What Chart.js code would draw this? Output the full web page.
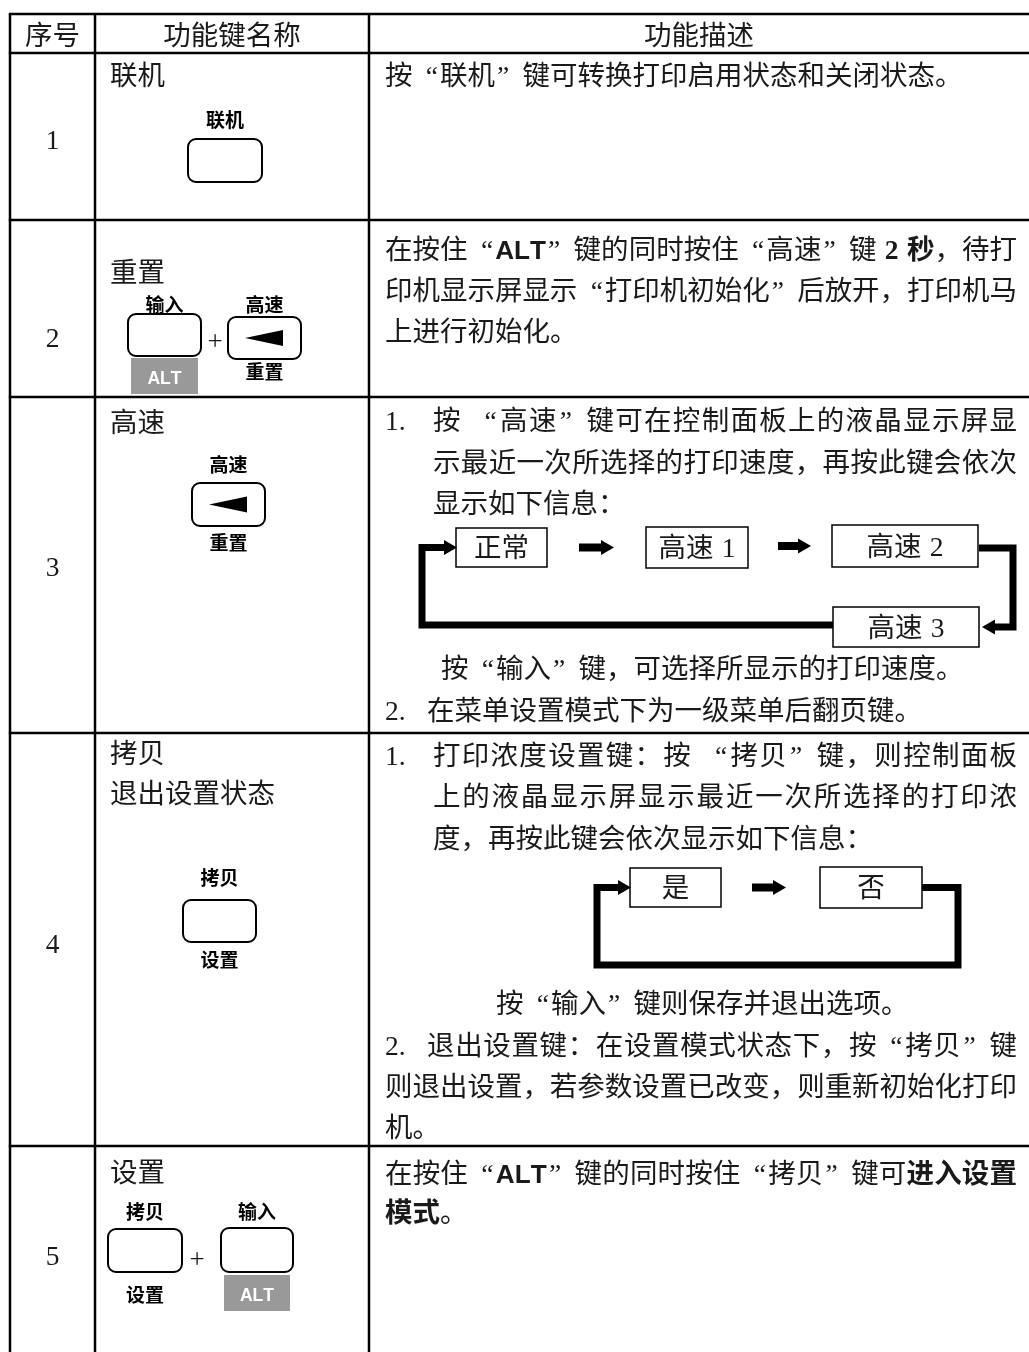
<!DOCTYPE html>
<html><head><meta charset="utf-8">
<script src="https://cdn.jsdelivr.net/npm/chart.js@4.4.1/dist/chart.umd.min.js"></script>
<style>html,body{margin:0;padding:0;background:#fff;}canvas{display:block;}</style>
</head><body>
<canvas id="c" width="1029" height="1352"></canvas>
<script>
// ---------- DATA ----------
const headers = ['序号', '功能键名称', '功能描述'];
const rowNumbers = ['1', '2', '3', '4', '5'];
const keyNames = [['联机'], ['重置'], ['高速'], ['拷贝', '退出设置状态'], ['设置']];
const keyTopLabels = [['联机'], ['输入', '高速'], ['高速'], ['拷贝'], ['拷贝', '输入']];
const keyBottomLabels = [[''], ['ALT', '重置'], ['重置'], ['设置'], ['设置', 'ALT']];
const keyArrows = [[false], [false, true], [true], [false], [false, false]];
const descriptions = [
  ['按“联机”键可转换打印启用状态和关闭状态。'],
  ['在按住“**ALT**”键的同时按住“高速”键 **2 秒**，待打', '印机显示屏显示“打印机初始化”后放开，打印机马', '上进行初始化。'],
  ['1.\t按 “高速”键可在控制面板上的液晶显示屏显', '示最近一次所选择的打印速度，再按此键会依次', '显示如下信息：', '按“输入”键，可选择所显示的打印速度。', '2.\t在菜单设置模式下为一级菜单后翻页键。'],
  ['1.\t打印浓度设置键：按 “拷贝”键，则控制面板', '上的液晶显示屏显示最近一次所选择的打印浓', '度，再按此键会依次显示如下信息：', '按“输入”键则保存并退出选项。', '2.\t退出设置键：在设置模式状态下，按“拷贝”键', '则退出设置，若参数设置已改变，则重新初始化打印', '机。'],
  ['在按住“**ALT**”键的同时按住“拷贝”键可**进入设置**', '**模式**。']
];
const speedModes = ['正常', '高速 1', '高速 2', '高速 3'];
const densityModes = ['是', '否'];

// ---------- LAYOUT (positions / styles only) ----------
const FS = 27.5;
const KFS = 19;
const colX = [10, 95, 369, 1040];
const rowY = [14, 53, 220, 397, 733, 1146, 1400];
const headerY = 35;
const numY = [139, 337, 566, 943, 1255];
const nameY = [[75], [272], [422], [753, 793], [1172]];
const nameX = 110;
const descEnd = 1017;
const descY = [[75], [249, 290, 331], [420, 462, 503, 668, 710], [755, 796, 838, 1003, 1045, 1086, 1127], [1173, 1212]];
const descStart = [[385], [385, 385, 385], [[385, 433], 433, 433, 441, [385, 427]], [[385, 433], 433, 433, 496, [385, 427], 385, 385], [385, 385]];
const descJust = [[false], [true, true, false], [true, true, false, false, false], [true, true, false, false, true, true, false], [true, false]];
const keyBoxes = [
  [[188, 139, 74, 43]],
  [[128, 314, 73, 42], [228, 317, 73, 42]],
  [[192, 483, 73, 43]],
  [[183, 900, 73, 42]],
  [[108, 1229, 74, 43], [221, 1228, 72, 44]]
];
const keyTopY = [[120], [305, 305], [465], [878], [1212, 1212]];
const keyBotY = [[0], [358, 372], [543], [960], [1295, 1275]];
const plusPos = [null, [215, 340], null, null, [197, 1258]];
const speedBoxes = [[456, 528, 91, 39], [646, 527, 102, 41], [832, 525, 146, 42], [833, 607, 146, 40]];
const densityBoxes = [[630, 868, 91, 39], [820, 867, 102, 41]];

// ---------- RENDER ----------
const isCJK = ch => ch.charCodeAt(0) >= 0x2E80;
const isQuote = ch => ch === '“' || ch === '”';

function parse(str) {
  const out = []; let bold = false;
  for (let i = 0; i < str.length; i++) {
    if (str[i] === '*' && str[i + 1] === '*') { bold = !bold; i++; continue; }
    out.push({ ch: str[i], bold });
  }
  return out;
}
function fontFor(t, s) {
  const ch = t.ch;
  if (/[A-Za-z]/.test(ch)) return (t.bold ? 'bold ' : '') + (s * 0.95) + 'px "Liberation Sans"';
  if (isQuote(ch) || /[0-9. +]/.test(ch)) return (t.bold ? 'bold ' : '') + s + 'px "Liberation Serif"';
  return (t.bold ? 'bold ' : '') + s + 'px "Noto Sans CJK SC"';
}
function adv(ctx, t, s) {
  if (t.ch === ' ') return s * 0.3;
  if (isCJK(t.ch) || isQuote(t.ch)) return s;
  ctx.font = fontFor(t, s);
  return ctx.measureText(t.ch).width;
}
function drawRun(ctx, toks, x0, xEnd, cy, s, justify) {
  let W = 0; toks.forEach(t => W += adv(ctx, t, s));
  const gap = justify && toks.length > 1 ? (xEnd - x0 - W) / (toks.length - 1) : 0;
  let x = x0; const base = cy + s * 0.36;
  toks.forEach(t => {
    const a = adv(ctx, t, s);
    if (t.ch !== ' ') {
      ctx.font = fontFor(t, s);
      let dx = 0;
      if (isQuote(t.ch)) {
        const w = ctx.measureText(t.ch).width;
        dx = t.ch === '“' ? a - w - 2 : 2;
      }
      ctx.textAlign = 'left'; ctx.textBaseline = 'alphabetic';
      ctx.fillText(t.ch, x + dx, base);
    }
    x += a + gap;
  });
}
function drawLine(ctx, str, starts, xEnd, cy, s, justify) {
  const parts = str.split('\t');
  const st = Array.isArray(starts) ? starts : [starts];
  parts.forEach((p, i) => {
    drawRun(ctx, parse(p), st[i], xEnd, cy, s, justify && i === parts.length - 1);
  });
}
function centerText(ctx, str, cx, cy, s, bold) {
  const toks = parse(str).map(t => ({ ch: t.ch, bold: t.bold || bold }));
  let W = 0; toks.forEach(t => W += adv(ctx, t, s));
  drawRun(ctx, toks, cx - W / 2, 0, cy, s, false);
}
function roundRect(ctx, x, y, w, h, r) {
  ctx.beginPath();
  ctx.moveTo(x + r, y); ctx.lineTo(x + w - r, y); ctx.arcTo(x + w, y, x + w, y + r, r);
  ctx.lineTo(x + w, y + h - r); ctx.arcTo(x + w, y + h, x + w - r, y + h, r);
  ctx.lineTo(x + r, y + h); ctx.arcTo(x, y + h, x, y + h - r, r);
  ctx.lineTo(x, y + r); ctx.arcTo(x, y, x + r, y, r); ctx.closePath();
}
function arrowHead(ctx, tipX, tipY, dir, len, half) {
  ctx.beginPath();
  ctx.moveTo(tipX, tipY);
  ctx.lineTo(tipX - dir * len, tipY - half);
  ctx.lineTo(tipX - dir * len, tipY + half);
  ctx.closePath(); ctx.fill();
}
function shortArrow(ctx, x1, x2, y) {
  ctx.fillRect(x1, y - 4, (x2 - x1) - 11, 8);
  arrowHead(ctx, x2, y, 1, 13, 7.5);
}

const tablePlugin = {
  id: 'manualTable',
  afterDraw(chart) {
    const ctx = chart.ctx;
    const sx = chart.scales.x, sy = chart.scales.y;
    const X = v => sx.getPixelForValue(v), Y = v => sy.getPixelForValue(v);
    ctx.save();
    ctx.fillStyle = '#fff'; ctx.fillRect(0, 0, chart.width, chart.height);
    // grid
    ctx.strokeStyle = '#000'; ctx.lineWidth = 2.5;
    rowY.forEach(v => { ctx.beginPath(); ctx.moveTo(X(colX[0]) - 1.2, Y(v)); ctx.lineTo(X(1029), Y(v)); ctx.stroke(); });
    colX.forEach(v => { ctx.beginPath(); ctx.moveTo(X(v), Y(rowY[0])); ctx.lineTo(X(v), Y(1352)); ctx.stroke(); });
    ctx.fillStyle = '#1a1a1a';
    // header
    headers.forEach((h, i) => centerText(ctx, h, (X(colX[i]) + X(Math.min(colX[i + 1], 1029))) / 2, Y(headerY), FS, false));
    // rows
    rowNumbers.forEach((n, r) => {
      ctx.fillStyle = '#1a1a1a';
      centerText(ctx, n, (X(colX[0]) + X(colX[1])) / 2, Y(numY[r]), FS, false);
      keyNames[r].forEach((nm, j) => drawLine(ctx, nm, X(nameX), 0, Y(nameY[r][j]), FS, false));
      descriptions[r].forEach((ln, j) => {
        const st = descStart[r][j];
        const sts = Array.isArray(st) ? st.map(X) : X(st);
        drawLine(ctx, ln, sts, X(descEnd), Y(descY[r][j]), FS, descJust[r][j]);
      });
      // keys
      keyBoxes[r].forEach((b, k) => {
        const bx = X(b[0]), by = Y(b[1]), bw = X(b[0] + b[2]) - bx, bh = Y(b[1] + b[3]) - by;
        const cx = bx + bw / 2;
        ctx.strokeStyle = '#000'; ctx.lineWidth = 2;
        roundRect(ctx, bx, by, bw, bh, 8); ctx.stroke();
        ctx.fillStyle = '#000';
        centerText(ctx, keyTopLabels[r][k], cx, Y(keyTopY[r][k]), KFS, true);
        const bl = keyBottomLabels[r][k];
        if (bl === 'ALT') {
          const ay = Y(keyBotY[r][k]);
          ctx.fillStyle = '#999';
          ctx.fillRect(bx + 3, ay, bw - 6, 36);
          ctx.fillStyle = '#fff';
          centerText(ctx, 'ALT', cx, ay + 19, 18.5, true);
        } else if (bl) {
          ctx.fillStyle = '#000';
          centerText(ctx, bl, cx, Y(keyBotY[r][k]), KFS, true);
        }
        if (keyArrows[r][k]) {
          const cy = by + bh / 2;
          ctx.fillStyle = '#000';
          ctx.beginPath();
          ctx.moveTo(bx + 17, cy);
          ctx.lineTo(bx + 55, cy - 8);
          ctx.lineTo(bx + 55, cy + 8);
          ctx.closePath(); ctx.fill();
        }
      });
      if (plusPos[r]) { ctx.fillStyle = '#1a1a1a'; centerText(ctx, '+', X(plusPos[r][0]), Y(plusPos[r][1]), 27, false); }
    });
    // speed flow diagram
    ctx.strokeStyle = '#000'; ctx.fillStyle = '#000';
    speedBoxes.forEach((b, i) => {
      ctx.lineWidth = 1.5;
      ctx.strokeRect(X(b[0]), Y(b[1]), X(b[0] + b[2]) - X(b[0]), Y(b[1] + b[3]) - Y(b[1]));
      ctx.fillStyle = '#1a1a1a';
      centerText(ctx, speedModes[i], X(b[0] + b[2] / 2), Y(b[1] + b[3] / 2), FS, false);
      ctx.fillStyle = '#000';
    });
    const sb = speedBoxes;
    shortArrow(ctx, X(579), X(614), Y(sb[0][1] + sb[0][3] / 2));
    shortArrow(ctx, X(778), X(811), Y(sb[2][1] + sb[2][3] / 2));
    ctx.lineWidth = 7; ctx.lineCap = 'butt'; ctx.lineJoin = 'miter';
    const yTop = Y(sb[2][1] + sb[2][3] / 2 + 2), yBot = Y(sb[3][1] + sb[3][3] / 2 - 2);
    ctx.beginPath(); ctx.moveTo(X(979), yTop); ctx.lineTo(X(1013), yTop); ctx.lineTo(X(1013), yBot + 2); ctx.lineTo(X(994), yBot + 2); ctx.stroke();
    arrowHead(ctx, X(982), yBot + 2, -1, 13, 7.5);
    const y0 = Y(sb[0][1] + sb[0][3] / 2);
    ctx.beginPath(); ctx.moveTo(X(833), yBot); ctx.lineTo(X(422), yBot); ctx.lineTo(X(422), y0); ctx.lineTo(X(445), y0); ctx.stroke();
    arrowHead(ctx, X(457), y0, 1, 13, 7.5);
    // density flow diagram
    const db = densityBoxes;
    db.forEach((b, i) => {
      ctx.lineWidth = 1.5;
      ctx.strokeRect(X(b[0]), Y(b[1]), X(b[0] + b[2]) - X(b[0]), Y(b[1] + b[3]) - Y(b[1]));
      ctx.fillStyle = '#1a1a1a';
      centerText(ctx, densityModes[i], X(b[0] + b[2] / 2), Y(b[1] + b[3] / 2), FS, false);
      ctx.fillStyle = '#000';
    });
    const dy = Y(db[0][1] + db[0][3] / 2);
    shortArrow(ctx, X(752), X(786), dy);
    ctx.lineWidth = 7;
    ctx.beginPath(); ctx.moveTo(X(922), dy); ctx.lineTo(X(958), dy); ctx.lineTo(X(958), Y(965)); ctx.lineTo(X(597), Y(965)); ctx.lineTo(X(597), dy); ctx.lineTo(X(619), dy); ctx.stroke();
    arrowHead(ctx, X(631), dy, 1, 13, 7.5);
    ctx.restore();
  }
};

new Chart(document.getElementById('c').getContext('2d'), {
  type: 'scatter',
  data: { datasets: [{ data: [], pointRadius: 0 }] },
  options: {
    responsive: false, animation: false, events: [],
    layout: { padding: 0 },
    scales: {
      x: { type: 'linear', min: 0, max: 1029, display: false },
      y: { type: 'linear', min: 0, max: 1352, reverse: true, display: false }
    },
    plugins: { legend: { display: false }, tooltip: { enabled: false } }
  },
  plugins: [tablePlugin]
});
</script>
</body></html>
